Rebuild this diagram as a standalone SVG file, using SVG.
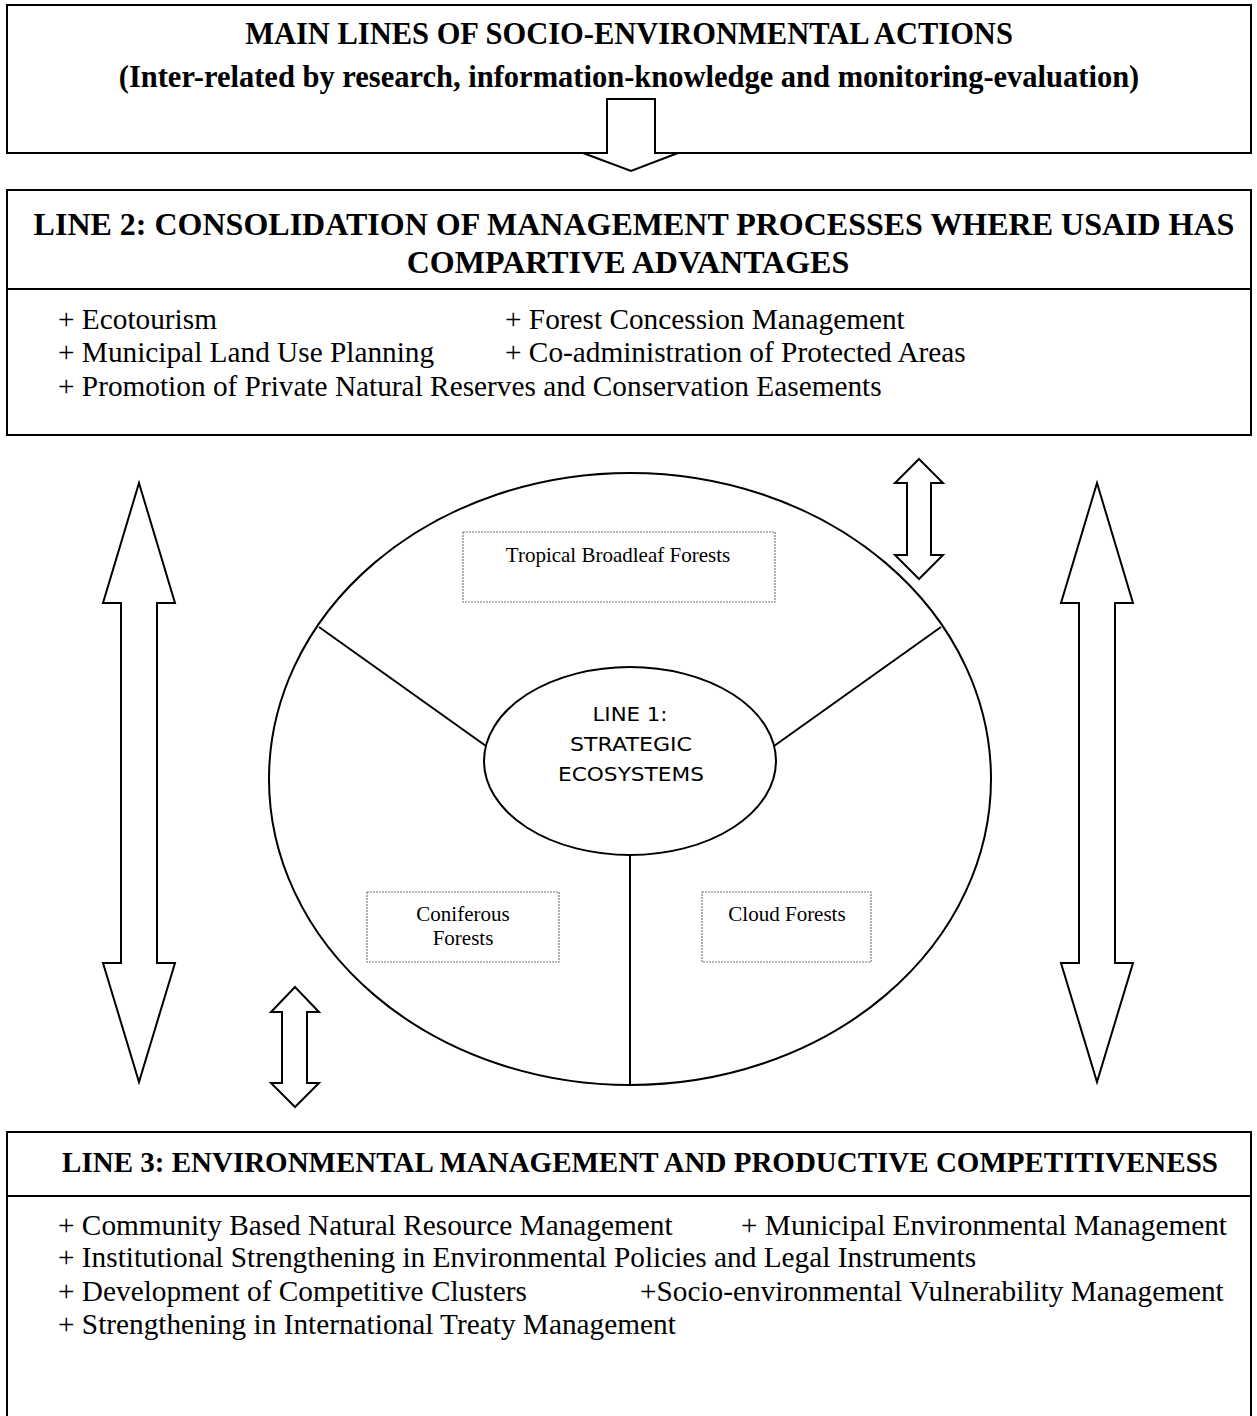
<svg xmlns="http://www.w3.org/2000/svg" width="1257" height="1416" viewBox="0 0 1257 1416">
<style>
.box{fill:#fff;stroke:#000;stroke-width:2}
.ln{fill:none;stroke:#000;stroke-width:2}
.arr{fill:#fff;stroke:#000;stroke-width:2;stroke-linejoin:miter}
.dash{fill:#fff;stroke:#777;stroke-width:1.2;stroke-dasharray:2 1}
.title{font-family:"Liberation Serif","Times New Roman",serif;font-weight:bold;font-size:30.5px;text-anchor:middle;fill:#000}
.item{font-family:"Liberation Serif","Times New Roman",serif;font-size:29.3px;fill:#000}
.small{font-family:"Liberation Serif","Times New Roman",serif;font-size:21px;text-anchor:middle;fill:#000}
.comic{font-family:"DejaVu Sans","Noto Sans",sans-serif;font-size:20px;text-anchor:middle;fill:#000}
</style>
<rect width="1257" height="1416" fill="#fff"/>

<g id="main-lines">
<rect class="box" x="7" y="5" width="1244" height="148"/>
<text class="title" x="629" y="44">MAIN LINES OF SOCIO-ENVIRONMENTAL ACTIONS</text>
<text class="title" x="629" y="87">(Inter-related by research, information-knowledge and monitoring-evaluation)</text>
</g>

<g id="line2">
<rect class="box" x="7" y="190" width="1244" height="245"/>
<line class="ln" x1="7" y1="289" x2="1251" y2="289"/>
<text class="title" x="634" y="235" style="font-size:32px">LINE 2: CONSOLIDATION OF MANAGEMENT PROCESSES WHERE USAID HAS</text>
<text class="title" x="628" y="273" style="font-size:32px">COMPARTIVE ADVANTAGES</text>
<text class="item" x="58" y="329">+ Ecotourism</text>
<text class="item" x="505" y="329">+ Forest Concession Management</text>
<text class="item" x="58" y="362">+ Municipal Land Use Planning</text>
<text class="item" x="505" y="362">+ Co-administration of Protected Areas</text>
<text class="item" x="58" y="396">+ Promotion of Private Natural Reserves and Conservation Easements</text>
</g>

<g id="line3">
<rect class="box" x="7" y="1132" width="1244" height="300"/>
<line class="ln" x1="7" y1="1196" x2="1251" y2="1196"/>
<text class="title" x="640" y="1172" style="font-size:29px">LINE 3: ENVIRONMENTAL MANAGEMENT AND PRODUCTIVE COMPETITIVENESS</text>
<text class="item" x="58" y="1235">+ Community Based Natural Resource Management</text>
<text class="item" x="741" y="1235">+ Municipal Environmental Management</text>
<text class="item" x="58" y="1267">+ Institutional Strengthening in Environmental Policies and Legal Instruments</text>
<text class="item" x="58" y="1301">+ Development of Competitive Clusters</text>
<text class="item" x="640" y="1301">+Socio-environmental Vulnerability Management</text>
<text class="item" x="58" y="1334">+ Strengthening in International Treaty Management</text>
</g>

<g id="ecosystems-circle">
<ellipse class="ln" cx="630" cy="779" rx="361" ry="306"/>
</g>

<g id="connectors">
<line class="ln" x1="486" y1="746" x2="319" y2="627"/>
<line class="ln" x1="774" y1="746" x2="941" y2="627"/>
<line class="ln" x1="630" y1="855" x2="630" y2="1085"/>
<polygon id="arrow-top" class="arr" points="607,99 655,99 655,153 678,153 631,171 583,153 607,153"/>
<polygon id="arrow-small-top" class="arr" points="919,459 943,483 931,483 931,555 943,555 919,579 895,555 907,555 907,483 895,483"/>
<polygon id="arrow-small-bottom" class="arr" points="295,987 319,1012 307,1012 307,1083 319,1083 295,1107 271,1083 282,1083 282,1012 271,1012"/>
<polygon id="arrow-left" class="arr" points="139,483 175,603 157,603 157,963 175,963 139,1082 103,963 121,963 121,603 103,603"/>
<polygon id="arrow-right" class="arr" points="1097,483 1133,603 1115,603 1115,963 1133,963 1097,1082 1061,963 1079,963 1079,603 1061,603"/>
</g>

<g id="line1">
<ellipse class="ln" style="fill:#fff" cx="630" cy="761" rx="146" ry="94"/>
<text class="comic" x="630" y="721" textLength="75" lengthAdjust="spacingAndGlyphs">LINE 1:</text>
<text class="comic" x="631" y="751" textLength="122" lengthAdjust="spacingAndGlyphs">STRATEGIC</text>
<text class="comic" x="631" y="781" textLength="146" lengthAdjust="spacingAndGlyphs">ECOSYSTEMS</text>
</g>

<g id="tropical">
<rect class="dash" x="463" y="532" width="312" height="70"/>
<text class="small" x="618" y="562">Tropical Broadleaf Forests</text>
</g>

<g id="coniferous">
<rect class="dash" x="367" y="892" width="192" height="70"/>
<text class="small" x="463" y="921">Coniferous</text>
<text class="small" x="463" y="945">Forests</text>
</g>

<g id="cloud">
<rect class="dash" x="702" y="892" width="169" height="70"/>
<text class="small" x="787" y="921">Cloud Forests</text>
</g>
</svg>
